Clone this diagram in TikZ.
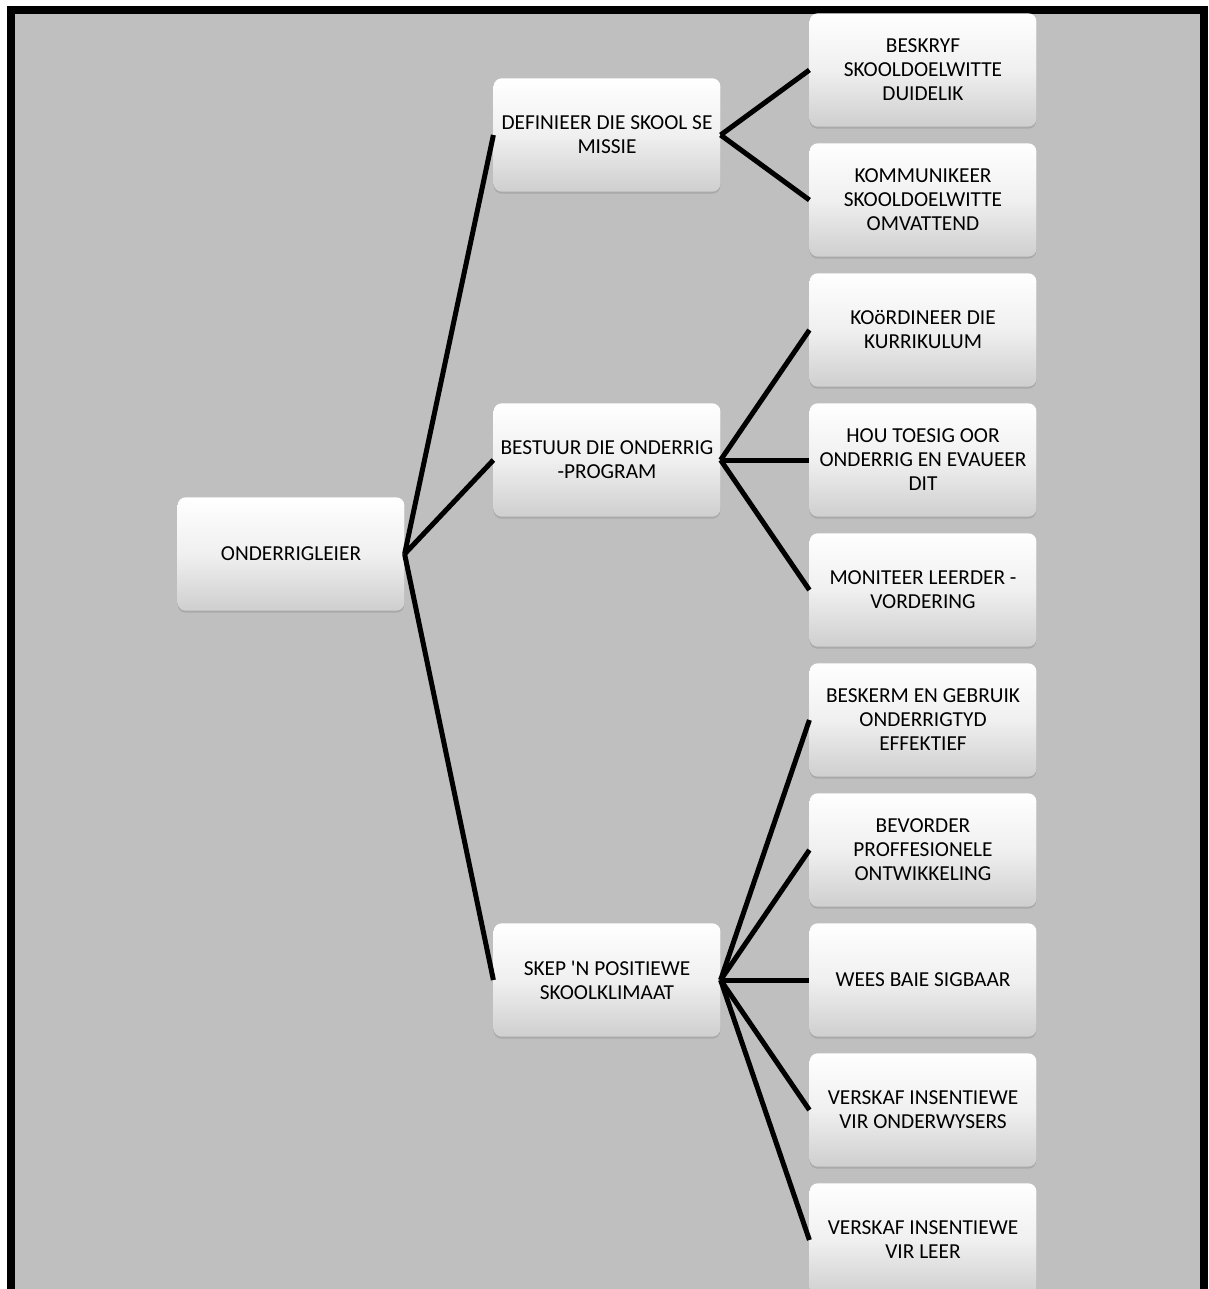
\documentclass[tikz,border=0pt]{standalone}
\usepackage{fontspec}
\setmainfont{Carlito}
\usetikzlibrary{calc,positioning,shadows}

\begin{document}
\begin{tikzpicture}[x=0.75pt,y=-0.75pt,node distance=97.5pt,align=flush center]
\tikzstyle{box}=[rounded corners=6pt,minimum width=170pt,minimum height=85pt,
  text width=165pt,inner sep=2pt,top color=white,bottom color=black!19,
  middle color=black!6,font=\fontsize{16}{18}\selectfont,
  drop shadow={shadow xshift=0pt,shadow yshift=-1.5pt,opacity=0.35}]
\tikzstyle{link}=[line width=3.75pt,black]

\clip (0,0) rectangle (1209,1289);
\fill[white] (0,0) rectangle (1209,1289);
\draw[line width=6pt,fill={rgb,255:red,191;green,191;blue,191}] (11,10) rectangle (1204,1340);

% leaves
\node[box] (b1) at (923,70) {BESKRYF\\SKOOLDOELWITTE\\DUIDELIK};
\node[box] (b2) [below of = b1] {KOMMUNIKEER\\SKOOLDOELWITTE\\OMVATTEND};
\node[box] (b3) [below of = b2] {KOöRDINEER DIE\\KURRIKULUM};
\node[box] (b4) [below of = b3] {HOU TOESIG OOR\\ONDERRIG EN EVAUEER\\DIT};
\node[box] (b5) [below of = b4] {MONITEER LEERDER -\\VORDERING};
\node[box] (b6) [below of = b5] {BESKERM EN GEBRUIK\\ONDERRIGTYD\\EFFEKTIEF};
\node[box] (b7) [below of = b6] {BEVORDER\\PROFFESIONELE\\ONTWIKKELING};
\node[box] (b8) [below of = b7] {WEES BAIE SIGBAAR};
\node[box] (b9) [below of = b8] {VERSKAF INSENTIEWE\\VIR ONDERWYSERS};
\node[box] (b10) [below of = b9] {VERSKAF INSENTIEWE\\VIR LEER};

% middle level
\node[box] (m1) at ($($(b1)!0.5!(b2)$)+(-316,0)$) {DEFINIEER DIE SKOOL SE\\MISSIE};
\node[box] (m2) at ($(b4)+(-316,0)$) {BESTUUR DIE ONDERRIG\\-PROGRAM};
\node[box] (m3) at ($(b8)+(-316,0)$) {SKEP \textquotesingle N POSITIEWE\\SKOOLKLIMAAT};

% root
\node[box] (r) at (291,554) {ONDERRIGLEIER};

\foreach \m in {m1,m2,m3}
  \draw[link] (r.east) -- (\m.west);
\foreach \b in {b1,b2}
  \draw[link] (m1.east) -- (\b.west);
\foreach \b in {b3,b4,b5}
  \draw[link] (m2.east) -- (\b.west);
\foreach \b in {b6,b7,b8,b9,b10}
  \draw[link] (m3.east) -- (\b.west);
\end{tikzpicture}
\end{document}
